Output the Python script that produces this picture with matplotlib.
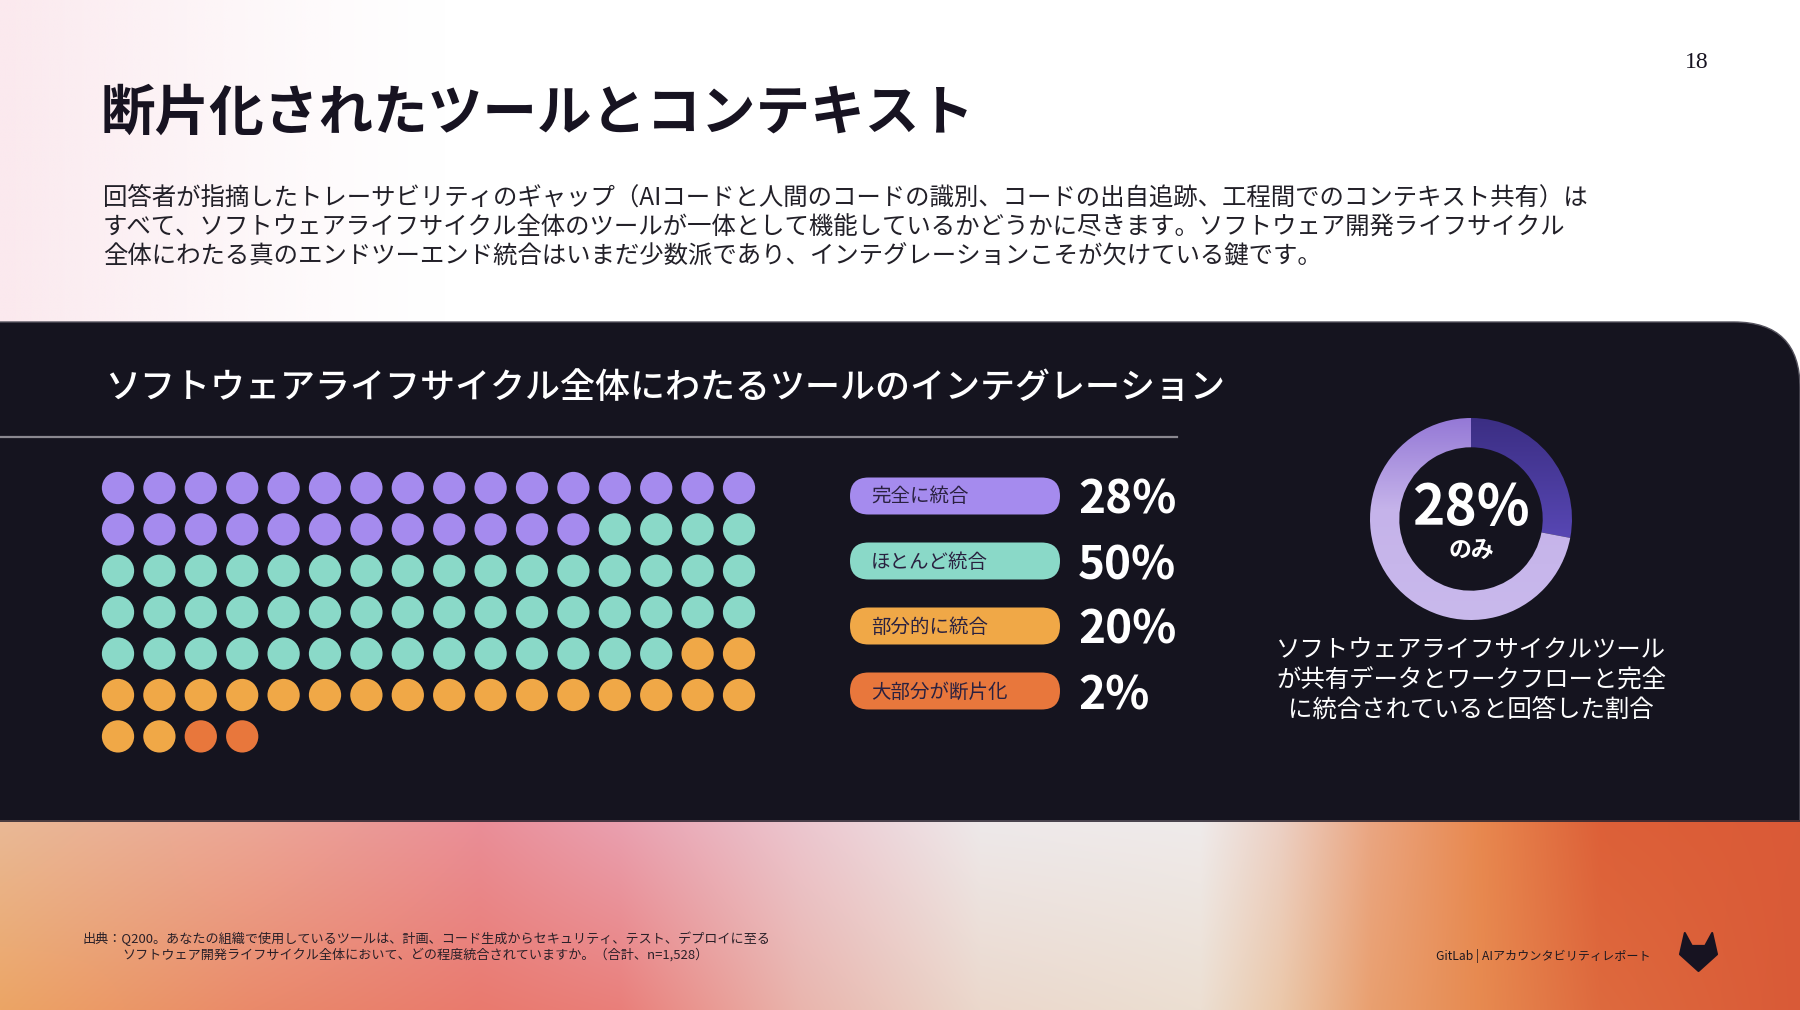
import numpy as np
import matplotlib
matplotlib.use("Agg")
import matplotlib.pyplot as plt
from matplotlib.patches import FancyBboxPatch, Polygon
from matplotlib.colors import to_rgb

plt.rcParams['font.family'] = ['Noto Sans CJK JP', 'DejaVu Sans']

# ---- data ----
categories = ['完全に統合', 'ほとんど統合', '部分的に統合', '大部分が断片化']
shares = [28, 50, 20, 2]
cat_colors = ['#a58bee', '#8ad9c8', '#f0a847', '#e8773c']
pct_labels = ['28%', '50%', '20%', '2%']
donut_value = 28

title = '断片化されたツールとコンテキスト'
page_no = '18'
intro_lines = [
    '回答者が指摘したトレーサビリティのギャップ（AIコードと人間のコードの識別、コードの出自追跡、工程間でのコンテキスト共有）は',
    'すべて、ソフトウェアライフサイクル全体のツールが一体として機能しているかどうかに尽きます。ソフトウェア開発ライフサイクル',
    '全体にわたる真のエンドツーエンド統合はいまだ少数派であり、インテグレーションこそが欠けている鍵です。',
]
section_title = 'ソフトウェアライフサイクル全体にわたるツールのインテグレーション'
donut_caption = [
    'ソフトウェアライフサイクルツール',
    'が共有データとワークフローと完全',
    'に統合されていると回答した割合',
]
source_lines = [
    '出典：Q200。あなたの組織で使用しているツールは、計画、コード生成からセキュリティ、テスト、デプロイに至る',
    'ソフトウェア開発ライフサイクル全体において、どの程度統合されていますか。（合計、n=1,528）',
]
brand = 'GitLab | AIアカウンタビリティレポート'

W, H = 1800, 1010
fig = plt.figure(figsize=(W / 100, H / 100), dpi=100, facecolor='white')
ax = fig.add_axes([0, 0, 1, 1])
ax.axis('off')

# soft pink tint at top left
xx = np.linspace(0, 1, 400)
tint = np.ones((2, 400, 4))
tint[..., :3] = to_rgb('#fbe9ee')
tint[..., 3] = np.clip(1 - xx / 0.25, 0, 1) ** 1.3
ax.imshow(tint, extent=(0, W, 330, 0), aspect='auto', zorder=0, interpolation='bilinear')

# dark panel with rounded top-right corner
panel = FancyBboxPatch((-300, 322), W + 300, 900, boxstyle='round,pad=0,rounding_size=66',
                       fc='#15141f', ec='#55535e', lw=1.0, zorder=1)
ax.add_patch(panel)

# gradient footer
stops_x = [0, 250, 480, 620, 800, 980, 1200, 1280, 1370, 1480, 1600, 1800]
top_c = ['#e9b996', '#eca696', '#ea8e98', '#e9a0b0', '#ecc6cf', '#eee9ea',
         '#efebeb', '#ecd0c4', '#eaa682', '#e8884f', '#dd6038', '#da5a37']
bot_c = ['#eca565', '#ea8a6a', '#e97a6e', '#e97f7a', '#e9b5ad', '#ebd8cc',
         '#ecdfd2', '#ebc8aa', '#e9a070', '#e78a50', '#de6a3e', '#d95a37']
gx = np.arange(W)
top_rgb = np.array([to_rgb(c) for c in top_c])
bot_rgb = np.array([to_rgb(c) for c in bot_c])
top_row = np.stack([np.interp(gx, stops_x, top_rgb[:, k]) for k in range(3)], axis=-1)
bot_row = np.stack([np.interp(gx, stops_x, bot_rgb[:, k]) for k in range(3)], axis=-1)
t = np.linspace(0, 1, 190)[:, None, None]
footer = top_row[None] * (1 - t) + bot_row[None] * t
ax.imshow(footer, extent=(0, W, H, 820), aspect='auto', zorder=2, interpolation='bilinear')
ax.plot([0, W], [820.5, 820.5], color='#2a2430', lw=1.2, zorder=3)

# header texts
ax.text(1697, 62, page_no, fontsize=17, family=['Liberation Serif', 'DejaVu Serif'],
        color='#171321', ha='center', va='center', zorder=5)
ax.text(101, 114, title, fontsize=39.3, fontweight='bold', color='#171321',
        ha='left', va='center', zorder=5)
for i, line in enumerate(intro_lines):
    ax.text(103, 198 + i * 29.5, line, fontsize=17.6, color='#222028',
            ha='left', va='center', zorder=5)

# section title + divider
ax.text(105, 388, section_title, fontsize=25.2, color='white', fontweight='medium',
        ha='left', va='center', zorder=5)
ax.plot([0, 1177], [437, 437], color='#8a8890', lw=1.6, zorder=5)

# waffle of 100 dots
n_cols = 16
cat_idx = np.repeat(np.arange(len(shares)), shares)
pos = np.arange(len(cat_idx))
dot_x = 118 + (pos % n_cols) * 41.4
dot_y = 488 + (pos // n_cols) * 41.4
ax.scatter(dot_x, dot_y, s=540, c=[cat_colors[k] for k in cat_idx], linewidths=0, zorder=5)

# legend pills + percentages
for i, (lab, col, pl) in enumerate(zip(categories, cat_colors, pct_labels)):
    yc = 496 + i * 65
    pill = FancyBboxPatch((850, yc - 18.5), 210, 37, boxstyle='round,pad=0,rounding_size=18.5',
                          fc=col, ec='none', zorder=5)
    ax.add_patch(pill)
    ax.text(871, yc + 1, lab, fontsize=14, color='#2a2140', ha='left', va='center', zorder=6)
    ax.text(1078, yc + 5, pl, fontsize=33, fontweight='bold', color='white',
            ha='left', va='center', zorder=6)

# donut caption
for i, line in enumerate(donut_caption):
    ax.text(1471, 651 + i * 29.5, line, fontsize=17.6, color='white',
            ha='center', va='center', zorder=6)

# footer texts
ax.text(83, 939, source_lines[0], fontsize=9.45, color='#2a2028', ha='left', va='center', zorder=6)
ax.text(122, 955, source_lines[1], fontsize=9.45, color='#2a2028', ha='left', va='center', zorder=6)
ax.text(1436, 956, brand, fontsize=8.7, color='#1e1820', ha='left', va='center', zorder=6)

# tanuki mark
lx, ly, lw_, lh = 1680, 933, 37, 38
shape = np.array([(0.13, 0.0), (0.32, 0.34), (0.68, 0.34), (0.87, 0.0),
                  (1.0, 0.56), (0.5, 1.0), (0.0, 0.56)])
ax.add_patch(Polygon(np.column_stack([lx + shape[:, 0] * lw_, ly + shape[:, 1] * lh]),
                     closed=True, fc='#171321', ec='#171321', lw=1.5, joinstyle='round', zorder=6))

ax.set_xlim(0, W)
ax.set_ylim(H, 0)

# donut
cx, cy, R = 1471, 519, 101
dax = fig.add_axes([(cx - R) / W, 1 - (cy + R) / H, 2 * R / W, 2 * R / H])
wedges, _ = dax.pie([donut_value, 100 - donut_value], startangle=90, counterclock=False,
                    radius=1, wedgeprops=dict(width=0.29, linewidth=0))
gy = np.linspace(-1, 1, 200)
def vgrad(ys, cols):
    rgb = np.array([to_rgb(c) for c in cols])
    col = np.stack([np.interp(gy, ys, rgb[:, k]) for k in range(3)], axis=-1)
    return np.repeat(col[:, None, :], 200, axis=1)
dark_img = vgrad([-0.3, 1.0], ['#5a49b8', '#3b2e83'])
light_img = vgrad([-1.0, 0.1, 1.0], ['#c9b9ec', '#c5b3ea', '#9478d6'])
for w, img in zip(wedges, [dark_img, light_img]):
    im = dax.imshow(img, extent=(-1, 1, -1, 1), origin='lower', zorder=1, interpolation='bilinear')
    im.set_clip_path(w)
    w.set_facecolor('none')
dax.text(0, 0.11, f'{donut_value}%', fontsize=39.5, fontweight='bold', color='white',
         ha='center', va='center', zorder=3)
dax.text(0, -0.31, 'のみ', fontsize=16.5, fontweight='bold', color='white',
         ha='center', va='center', zorder=3)
dax.set_xlim(-1, 1)
dax.set_ylim(-1, 1)
dax.set_aspect('auto')
dax.axis('off')

fig.savefig('out.png', dpi=100, facecolor='white')
